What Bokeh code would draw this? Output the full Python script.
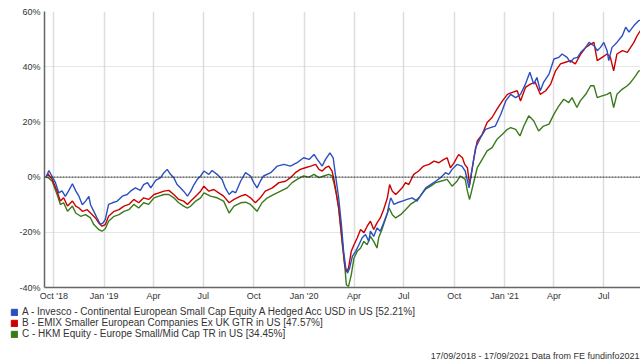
import pandas as pd
from bokeh.plotting import figure
from bokeh.layouts import column
from bokeh.models import Range1d, FixedTicker, Span, Legend, LegendItem, Label
from bokeh.embed import file_html
from bokeh.resources import INLINE

start_date = "2018-09-17"

# Days since 17/09/2018 and cumulative % return
a_days = [0, 5, 17, 23, 29, 35, 41, 48, 54, 60,
          66, 72, 78, 81, 87, 93, 99, 104, 108, 114,
          121, 130, 139, 148, 154, 163, 172, 178, 185, 191,
          200, 209, 215, 221, 227, 233, 239, 245, 251, 258,
          264, 270, 276, 282, 288, 297, 303, 312, 321, 327,
          334, 340, 346, 355, 364, 373, 379, 385, 391, 397,
          410, 422, 434, 446, 458, 470, 480, 489, 495, 504,
          510, 518, 524, 528, 534, 539, 543, 547, 550, 554,
          559, 565, 571, 577, 583, 589, 592, 598, 604, 610,
          616, 623, 626, 629, 635, 641, 650, 659, 668, 677,
          683, 693, 702, 711, 720, 729, 735, 741, 750, 759,
          765, 772, 778, 784, 793, 802, 811, 820, 830, 839,
          848, 857, 866, 875, 883, 890, 896, 902, 908, 918,
          927, 936, 942, 951, 957, 963, 970, 976, 985, 991,
          1000, 1006, 1012, 1018, 1024, 1027, 1033, 1042, 1052, 1058,
          1064, 1073, 1082, 1090]
a_vals = [0, 2.4, -2, -5.7, -5, -7, -5, -2.4, -5, -7,
          -10, -8.7, -7, -10, -12.4, -14.8, -17.1, -16.6, -15.3, -9.9,
          -9.3, -8.7, -6.9, -6.3, -5.1, -3.9, -4.8, -2.7, -2, -3.9,
          -1.2, -0.2, 1.6, 2.8, 1, -0.2, -2.7, -3.9, -5.1, -6.9,
          -5.1, -2.7, -0.8, 0.4, 2.2, 1, 2.4, 1, -0.8, -3.9,
          -6.3, -5.1, -5.7, -1.5, 1.6, 0.4, -2, -3.9, -1.5, 0.4,
          1.6, 4, 4.6, 4, 5.2, 7, 6.4, 8.2, 6.4, 4,
          6.4, 8.8, 7, 1, -7.5, -17.2, -26.9, -33, -34.8, -33,
          -28.7, -26.9, -24.5, -22, -20.8, -23.3, -19.6, -21.5, -18.4, -19.6,
          -16.6, -13, -9.9, -7.5, -9.9, -9.3, -8.7, -8.1, -7.5, -8.7,
          -6.9, -3.9, -2.7, -1.5, -0.2, 1.6, 1, 2.8, 4.6, 4,
          2.2, -3.9, 3.4, 10.7, 14.3, 17.3, 17.9, 18.5, 22.8, 27.6,
          30, 28.8, 30, 33.7, 38, 33.7, 36.1, 31.3, 34.3, 37.3,
          42.8, 43.4, 44.6, 43.4, 41.6, 43, 43.4, 45.2, 47, 48.8,
          47.6, 45.8, 47, 48.8, 45.8, 42.2, 47, 48.8, 51.3, 54.3,
          52.5, 54.9, 56.7, 57]

b_days = [0, 3, 11, 20, 26, 32, 39, 48, 54, 60,
          66, 75, 81, 90, 96, 102, 108, 114, 124, 133,
          142, 151, 160, 169, 178, 187, 197, 206, 215, 224,
          233, 242, 251, 258, 264, 273, 282, 288, 297, 306,
          315, 324, 334, 343, 355, 364, 373, 382, 391, 400,
          413, 425, 437, 446, 455, 464, 473, 483, 492, 498,
          504, 510, 516, 522, 526, 528, 534, 540, 545, 548,
          552, 557, 562, 568, 574, 580, 586, 592, 598, 604,
          610, 616, 623, 627, 632, 638, 644, 650, 656, 662,
          671, 680, 689, 699, 708, 717, 726, 732, 738, 744,
          753, 760, 764, 769, 773, 781, 787, 796, 805, 814,
          823, 833, 842, 851, 860, 866, 875, 884, 893, 902,
          912, 921, 930, 939, 948, 957, 966, 976, 985, 994,
          1000, 1006, 1015, 1024, 1030, 1036, 1042, 1052, 1061, 1067,
          1073, 1079, 1085, 1090]
b_vals = [0, 1.2, -0.8, -5.1, -8.7, -7.5, -10.5, -8.7, -10.5, -11.2,
          -12.4, -11.8, -13, -14.8, -16.6, -17.8, -17.2, -14.2, -12.4, -11.8,
          -10.5, -9.9, -8.1, -9.3, -7.5, -8.1, -6.3, -5.7, -5.1, -4.8,
          -6.3, -8.1, -8.7, -9.9, -8.7, -6.9, -5.1, -3.3, -5.1, -4.5,
          -5.7, -6.9, -9.3, -8.1, -6.9, -6.3, -7.5, -9.3, -7.5, -5.1,
          -3.9, -2, -1.5, -0.2, 1.6, 2.8, 3.4, 4, 4.6, 2.8,
          2.2, 3.4, 4, 2.2, -1.5, -3.9, -11.2, -22, -31.8, -34.2,
          -33, -26.9, -24.5, -22, -19, -20.2, -17.8, -16, -19, -16.6,
          -14.8, -11.8, -7.5, -2.7, -5.1, -6.3, -5.1, -3.9, -2, -2.7,
          1, 2.2, 4, 4.6, 5.8, 5.2, 6.4, 7, 3.4, 5,
          8.2, 7, 4.6, 3.4, -2.7, 7, 13.1, 15.5, 19.8, 21.6,
          24.6, 27.6, 30, 30.7, 31.3, 27.6, 32.5, 33.7, 34.3, 30,
          31.3, 33.7, 38.5, 41, 41.6, 42.2, 41, 44.6, 47, 48.2,
          48.8, 42.2, 43.4, 44.6, 43.4, 38.5, 44.6, 45.8, 45.2, 47,
          48.8, 51.3, 53.1, 53.5]

c_days = [0, 5, 11, 20, 26, 32, 39, 48, 54, 63,
          72, 81, 87, 96, 102, 108, 114, 124, 133, 142,
          151, 160, 169, 178, 187, 197, 206, 215, 224, 233,
          242, 251, 258, 264, 273, 282, 288, 300, 312, 324,
          334, 343, 355, 364, 373, 385, 394, 404, 416, 428,
          440, 449, 458, 470, 480, 489, 498, 507, 516, 522,
          526, 530, 534, 540, 545, 548, 552, 557, 562, 568,
          574, 580, 586, 592, 598, 604, 607, 613, 620, 626,
          632, 638, 647, 656, 665, 674, 683, 692, 702, 711,
          720, 732, 741, 750, 756, 765, 769, 773, 781, 787,
          796, 805, 814, 823, 833, 842, 848, 857, 865, 872,
          881, 890, 899, 908, 918, 927, 936, 945, 954, 960,
          969, 975, 985, 994, 1000, 1006, 1015, 1024, 1030, 1036,
          1042, 1052, 1061, 1067, 1076, 1082, 1090]
c_vals = [0, -0.4, -1.5, -6.3, -9.9, -9.3, -12.4, -10.5, -13, -14.2,
          -13.6, -14.8, -17.2, -19, -19.6, -18.7, -16, -14.2, -13.6, -12.4,
          -11.8, -9.9, -11.2, -9.3, -9.9, -7.5, -6.9, -6.3, -6.3, -7.5,
          -9.3, -10.5, -11.2, -10.5, -8.7, -7.5, -5.7, -6.9, -7.5, -8.7,
          -13, -10.5, -9.3, -9.1, -9.9, -12.4, -9.3, -7.5, -6.3, -5.1,
          -3.9, -2, -0.8, 0.4, 0, 1, -0.2, 0.4, 1, 0.4,
          -2.7, -6.3, -11.2, -23.3, -31.8, -39, -39.6, -35.4, -29.3, -26.9,
          -25.7, -23.3, -24.5, -21.5, -23.3, -25.7, -22, -19, -14.8, -11.2,
          -13.6, -14.8, -13.6, -11.8, -9.9, -8.7, -6.9, -4.5, -3.3, -2,
          -1.5, -0.8, -3.3, -1.5, 0.4, -0.8, -5.1, -8.1, -1.5, 3.4,
          6.4, 9.5, 10.7, 13.7, 15.5, 17.3, 17.9, 17.3, 14.9, 18.5,
          22.2, 20.4, 16.7, 18.5, 19.2, 22.8, 25.8, 28.2, 27, 28.8,
          25.2, 27.6, 30, 33.1, 33.1, 28.8, 29.4, 30, 30.7, 25.2,
          30, 31.9, 33.1, 34.3, 36.7, 38.5, 38.5]

series_names = [
    "A - Invesco - Continental European Small Cap Equity A Hedged Acc USD in US [52.21%]",
    "B - EMIX Smaller European Companies Ex UK GTR in US [47.57%]",
    "C - HKM Equity - Europe Small/Mid Cap TR in US [34.45%]",
]
series_colors = ["#2a4fc0", "#cc0000", "#3a7a1c"]

x_tick_dates = ["2018-10-01", "2019-01-01", "2019-04-01", "2019-07-01", "2019-10-01",
                "2020-01-01", "2020-04-01", "2020-07-01", "2020-10-01", "2021-01-01",
                "2021-04-01", "2021-07-01"]
x_tick_labels = ["Oct '18", "Jan '19", "Apr", "Jul", "Oct", "Jan '20", "Apr", "Jul",
                 "Oct", "Jan '21", "Apr", "Jul"]
y_ticks = [-40, -20, 0, 20, 40, 60]
y_tick_labels = ["-40%", "-20%", "0%", "20%", "40%", "60%"]
footer_text = "17/09/2018 - 17/09/2021 Data from FE fundinfo2021"

FONT = "Liberation Sans"
start = pd.Timestamp(start_date)


def to_dates(days):
    return start + pd.to_timedelta(days, unit="D")


# ---- main chart ----
p = figure(frame_width=596, frame_height=276,
           x_axis_type="datetime",
           x_range=Range1d(pd.Timestamp("2018-09-14"), pd.Timestamp("2021-09-06")),
           y_range=Range1d(-40, 60),
           output_backend="svg", toolbar_location=None,
           min_border_left=44, min_border_right=0, min_border_top=11,
           min_border_bottom=16)
p.outline_line_color = None

for days, vals, color in [(c_days, c_vals, series_colors[2]),
                          (b_days, b_vals, series_colors[1]),
                          (a_days, a_vals, series_colors[0])]:
    p.line(to_dates(days), vals, line_color=color, line_width=1.4)

tick_ms = [int(pd.Timestamp(d).value // 10**6) for d in x_tick_dates]
p.xaxis.ticker = FixedTicker(ticks=tick_ms)
p.xaxis.major_label_overrides = {t: l for t, l in zip(tick_ms, x_tick_labels)}
p.yaxis.ticker = FixedTicker(ticks=y_ticks)
p.yaxis.major_label_overrides = {t: l for t, l in zip(y_ticks, y_tick_labels)}
for ax in (p.xaxis, p.yaxis):
    ax.major_tick_in = 0
    ax.major_tick_out = 0
    ax.minor_tick_in = 0
    ax.minor_tick_out = 0
    ax.axis_line_color = "#666666"
    ax.axis_line_width = 1.5
    ax.major_label_text_font = FONT
    ax.major_label_text_font_size = "9px"
    ax.major_label_text_color = "#333333"
p.xaxis.major_label_standoff = 3
p.yaxis.major_label_standoff = 4

p.xgrid.grid_line_color = "#dddddd"
p.xgrid.grid_line_width = 1.5
p.ygrid.grid_line_color = "#cccccc"
p.ygrid.grid_line_dash = "1 1"
p.ygrid.grid_line_width = 1

p.add_layout(Span(location=0, dimension="width", line_color="#222222",
                  line_dash="2 1", line_width=1))

# ---- legend and footer strip (its plot area spans the full width) ----
q = figure(frame_width=640, frame_height=57, x_range=Range1d(0, 640), y_range=Range1d(0, 57),
           x_axis_location=None, y_axis_location=None,
           output_backend="svg", toolbar_location=None,
           min_border_left=0, min_border_right=0, min_border_top=0, min_border_bottom=0)
q.outline_line_color = None
q.xgrid.visible = False
q.ygrid.visible = False
for fig in (p, q):
    if "frame_align" in fig.properties():
        fig.frame_align = False

items = []
for name, color in zip(series_names, series_colors):
    # swatch renderer: its single box lies outside the visible range, only the legend shows it
    r = q.quad(left=[-30], right=[-20], top=[-20], bottom=[-30],
               fill_color=color, line_color=color)
    items.append(LegendItem(label=name, renderers=[r]))
legend = Legend(items=items, location=(10, 21), orientation="vertical",
                glyph_width=8, glyph_height=8, label_height=10,
                label_text_font=FONT, label_text_font_size="10px",
                label_text_color="#333333", label_standoff=4,
                spacing=-1, padding=0, margin=0,
                border_line_color=None, background_fill_alpha=0)
q.add_layout(legend, "center")

q.add_layout(Label(x=639, y=5, x_units="screen", y_units="screen",
                   text=footer_text, text_align="right", text_baseline="middle",
                   text_font=FONT, text_font_size="9px", text_color="#333333"))

layout = column(p, q, spacing=0)
open("out.html", "w").write(file_html(layout, INLINE))
